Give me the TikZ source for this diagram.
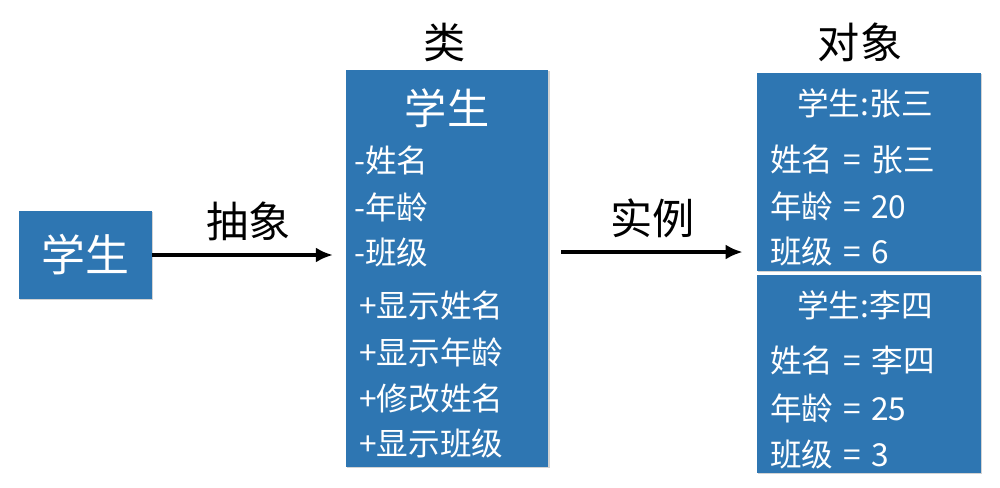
\documentclass[tikz,border=0pt]{standalone}
\usepackage{fontspec}
\setmainfont{Noto Sans CJK SC}
\usepackage{tikz}
\usetikzlibrary{arrows.meta,positioning,shadows}
\usepackage{xcolor}
\definecolor{umlblue}{HTML}{2E76B2}
\tikzset{
  bluebox/.style={
    draw=none,
    fill=umlblue,
    drop shadow={shadow xshift=0.7pt,shadow yshift=-0.7pt,opacity=0.35},
    inner sep=0pt
  },
  boxtext/.style={
    text=white,
    inner sep=0pt,
    font=\fontsize{18}{21}\selectfont
  },
  headtext/.style={
    text=white,
    inner sep=0pt,
    font=\fontsize{24}{28}\selectfont
  },
  toptext/.style={
    inner sep=0pt,
    font=\fontsize{24}{28}\selectfont
  },
  arrow/.style={
    -{Latex[length=3.4mm,width=3mm]},
    line width=2.2pt,
    draw=black
  }
}
\newcommand{\eqsp}{\hspace{0.32em}=\hspace{0.32em}}
\begin{document}
\begin{tikzpicture}[x=0.02cm,y=-0.02cm]
\useasboundingbox (0,0) rectangle (1000,487);
% boxes
\node[bluebox, minimum width=2.66cm, minimum height=1.76cm] (stu) at (85.5,255) {};
\node[bluebox, minimum width=4.06cm, minimum height=7.94cm] (cls) at (447,268.5) {};
\node[bluebox, minimum width=4.48cm, minimum height=3.96cm] (obj1) at (869,172) {};
\node[bluebox, minimum width=4.48cm, minimum height=3.96cm] (obj2) at (869,374) {};
% titles above
\node[toptext] (lblcls) at (445,42) {类};
\node[toptext] (lblobj) at (860,42) {对象};
% abstract student
\node[headtext, font=\fontsize{25}{28}\selectfont] (stutxt) at (stu) {学生};
% class
\node[headtext] (clsname) at (447,108) {学生};
\node[boxtext, anchor=west] (f1) at (354,160) {-姓名};
\node[boxtext, anchor=west] (f2) at (354,207) {-年龄};
\node[boxtext, anchor=west] (f3) at (354,252) {-班级};
\node[boxtext, anchor=west] (m1) at (359,305) {+显示姓名};
\node[boxtext, anchor=west] (m2) at (359,352) {+显示年龄};
\node[boxtext, anchor=west] (m3) at (359,398) {+修改姓名};
\node[boxtext, anchor=west] (m4) at (359,443) {+显示班级};
% objects
\node[boxtext] (o1name) at (865,103) {学生:张三};
\node[boxtext, anchor=west] (o1a) at (770,160) {姓名\eqsp 张三};
\node[boxtext, anchor=west] (o1b) at (770,206) {年龄\eqsp 20};
\node[boxtext, anchor=west] (o1c) at (770,251) {班级\eqsp 6};
\node[boxtext] (o2name) at (865,305) {学生:李四};
\node[boxtext, anchor=west] (o2a) at (770,360) {姓名\eqsp 李四};
\node[boxtext, anchor=west] (o2b) at (770,408) {年龄\eqsp 25};
\node[boxtext, anchor=west] (o2c) at (770,454) {班级\eqsp 3};
% arrows
\draw[arrow, shorten >=7pt] (stu.east) -- (stu.east -| cls.west)
  node[midway, above=7pt, toptext] {抽象};
\draw[arrow, shorten <=7pt, shorten >=8pt] ([yshift=1.7pt]stu.east -| cls.east) -- ([yshift=1.7pt]stu.east -| obj1.west)
  node[midway, above=7pt, toptext] {实例};
\end{tikzpicture}
\end{document}
